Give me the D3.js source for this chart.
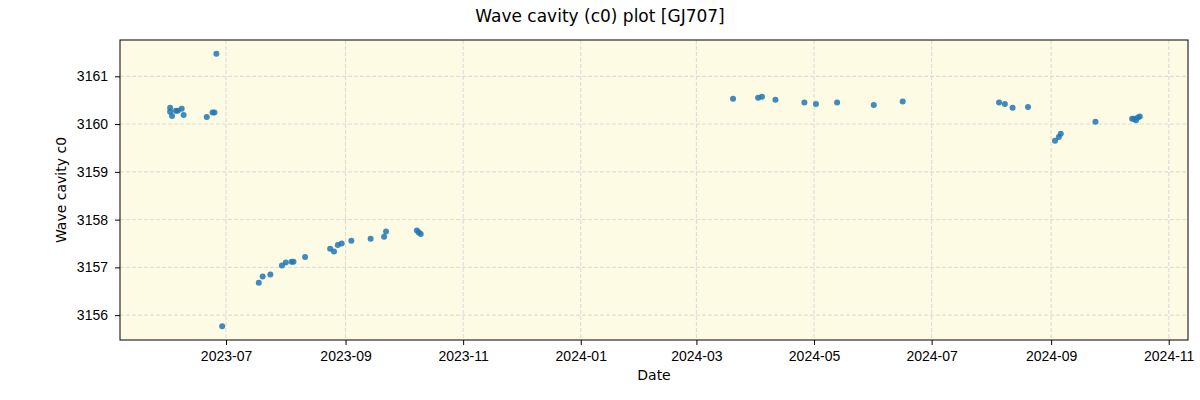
<!DOCTYPE html>
<html>
<head>
<meta charset="utf-8">
<script src="https://d3js.org/d3.v7.min.js"></script>
<style>
  body { margin: 0; background: #fff; }
  svg { font-family: "DejaVu Sans", sans-serif; }
</style>
</head>
<body>
<div id="chart"></div>
<script>
// measurement dates and values
const dates = [
  "2023-06-02", "2023-06-02", "2023-06-03", "2023-06-05", "2023-06-06", "2023-06-08",
  "2023-06-09", "2023-06-21", "2023-06-24", "2023-06-25", "2023-06-26", "2023-06-29",
  "2023-07-18", "2023-07-20", "2023-07-24", "2023-07-30", "2023-08-01", "2023-08-04",
  "2023-08-05", "2023-08-11", "2023-08-24", "2023-08-26", "2023-08-28", "2023-08-30",
  "2023-09-04", "2023-09-14", "2023-09-21", "2023-09-22", "2023-10-08", "2023-10-09",
  "2023-10-10",
  "2024-03-20", "2024-04-02", "2024-04-04", "2024-04-11", "2024-04-26", "2024-05-02",
  "2024-05-13", "2024-06-01", "2024-06-16", "2024-08-05", "2024-08-08", "2024-08-12",
  "2024-08-20", "2024-09-03", "2024-09-05", "2024-09-06", "2024-09-24", "2024-10-13",
  "2024-10-14", "2024-10-15", "2024-10-16", "2024-10-17"
];
const values = [
  3160.34, 3160.26, 3160.17, 3160.28, 3160.28, 3160.32,
  3160.19, 3160.15, 3160.24, 3160.24, 3161.47, 3155.77,
  3156.68, 3156.81, 3156.85, 3157.04, 3157.10, 3157.12,
  3157.12, 3157.22, 3157.39, 3157.33, 3157.47, 3157.50,
  3157.56, 3157.60, 3157.64, 3157.75, 3157.77, 3157.73,
  3157.70,
  3160.53, 3160.55, 3160.57, 3160.51, 3160.45, 3160.42,
  3160.45, 3160.40, 3160.47, 3160.45, 3160.42, 3160.34,
  3160.36, 3159.65, 3159.73, 3159.80, 3160.05, 3160.11,
  3160.11, 3160.08, 3160.14, 3160.16
];
const xTicks = ["2023-07-01", "2023-09-01", "2023-11-01", "2024-01-01", "2024-03-01",
                "2024-05-01", "2024-07-01", "2024-09-01", "2024-11-01"];
const yTicks = [3156, 3157, 3158, 3159, 3160, 3161];
const xDomain = ["2023-05-07", "2024-11-11"];
const yDomain = [3155.48, 3161.76];

const parse = d3.utcParse("%Y-%m-%d");
const data = dates.map((d, i) => ({ date: parse(d), value: values[i] }));

const W = 1200, H = 400;
const m = { left: 120, right: 12, top: 40, bottom: 60 };

const svg = d3.select("#chart").append("svg")
  .attr("width", W).attr("height", H);

const x = d3.scaleUtc().domain(xDomain.map(parse)).range([m.left, W - m.right]);
const y = d3.scaleLinear().domain(yDomain).range([H - m.bottom, m.top]);

svg.append("rect")
  .attr("x", m.left).attr("y", m.top)
  .attr("width", W - m.left - m.right).attr("height", H - m.top - m.bottom)
  .attr("fill", "#fdfbe3");

// grid
const grid = svg.append("g");
grid.selectAll(".gx").data(xTicks.map(parse)).enter().append("line")
  .attr("x1", d => x(d)).attr("x2", d => x(d))
  .attr("y1", m.top).attr("y2", H - m.bottom)
  .attr("stroke", "#cfd0d6").attr("stroke-width", 0.8).attr("stroke-dasharray", "4,2");
grid.selectAll(".gy").data(yTicks).enter().append("line")
  .attr("x1", m.left).attr("x2", W - m.right)
  .attr("y1", d => y(d)).attr("y2", d => y(d))
  .attr("stroke", "#cfd0d6").attr("stroke-width", 0.8).attr("stroke-dasharray", "4,2");

svg.append("g").selectAll("circle").data(data).enter().append("circle")
  .attr("cx", d => x(d.date))
  .attr("cy", d => y(d.value))
  .attr("r", 3)
  .attr("fill", "#1f77b4")
  .attr("fill-opacity", 0.85);

const xAxis = d3.axisBottom(x).tickValues(xTicks.map(parse))
  .tickFormat(d3.utcFormat("%Y-%m")).tickSizeOuter(0).tickSize(5).tickPadding(6);
const yAxis = d3.axisLeft(y).tickValues(yTicks).tickFormat(d3.format("d"))
  .tickSizeOuter(0).tickSize(5).tickPadding(7);

svg.append("g").attr("transform", `translate(0,${H - m.bottom})`).call(xAxis)
  .call(g => g.select(".domain").remove())
  .selectAll("text").style("font-size", "14px").attr("fill", "#000");
svg.append("g").attr("transform", `translate(${m.left},0)`).call(yAxis)
  .call(g => g.select(".domain").remove())
  .selectAll("text").style("font-size", "14px").attr("fill", "#000");

svg.append("rect")
  .attr("x", m.left).attr("y", m.top)
  .attr("width", W - m.left - m.right).attr("height", H - m.top - m.bottom)
  .attr("fill", "none").attr("stroke", "#000").attr("stroke-width", 1);

svg.append("text")
  .attr("x", W / 2).attr("y", 22)
  .attr("text-anchor", "middle")
  .style("font-size", "17px")
  .text("Wave cavity (c0) plot [GJ707]");

svg.append("text")
  .attr("x", (m.left + W - m.right) / 2).attr("y", 380)
  .attr("text-anchor", "middle")
  .style("font-size", "14px")
  .text("Date");

svg.append("text")
  .attr("transform", "rotate(-90)")
  .attr("x", -(m.top + H - m.bottom) / 2).attr("y", 66)
  .attr("text-anchor", "middle")
  .style("font-size", "14px")
  .text("Wave cavity c0");
</script>
</body>
</html>
